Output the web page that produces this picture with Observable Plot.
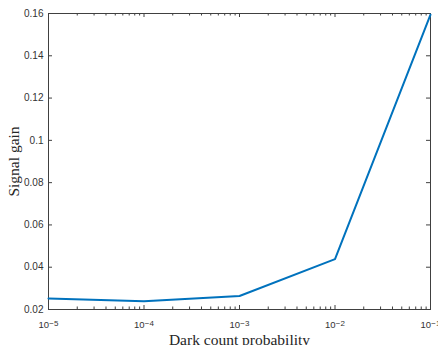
<!DOCTYPE html>
<html>
<head>
<meta charset="utf-8">
<script src="https://cdn.jsdelivr.net/npm/d3@7"></script>
<script src="https://cdn.jsdelivr.net/npm/@observablehq/plot@0.6"></script>
<style>
  html, body { margin: 0; padding: 0; background: #fff; }
</style>
</head>
<body>
<div id="chart"></div>
<script>
// Data
const probabilities = [1e-5, 1e-4, 1e-3, 1e-2, 1e-1];
const signalGain = [0.0252, 0.0239, 0.0264, 0.0438, 0.1595];

// Tick positions / labels
const xMajorTicks = [1e-5, 1e-4, 1e-3, 1e-2, 1e-1];
const xExponents = ["−5", "−4", "−3", "−2", "−1"];
const xMinorTicks = [];
for (const d of [1e-5, 1e-4, 1e-3, 1e-2]) for (let m = 2; m <= 9; m++) xMinorTicks.push(+(d * m).toPrecision(3));
const yTicks = [0.02, 0.04, 0.06, 0.08, 0.1, 0.12, 0.14, 0.16];

const data = probabilities.map((p, i) => ({p, g: signalGain[i]}));

const W = 438, H = 345;
const mL = 48, mR = 8, mT = 13, mB = 36;
const pw = W - mL - mR, ph = H - mT - mB;
const axisColor = "#404040";
const textColor = "#333";
const serif = "'Liberation Serif', 'Times New Roman', serif";

const chart = Plot.plot({
  width: W,
  height: H,
  marginLeft: mL,
  marginRight: mR,
  marginTop: mT,
  marginBottom: mB,
  style: {background: "#fff", fontFamily: "'Liberation Sans', Arial, sans-serif"},
  x: {type: "log", domain: [1e-5, 1e-1], axis: null},
  y: {domain: [0.02, 0.16]},
  marks: [
    Plot.frame({stroke: axisColor, strokeWidth: 1}),
    // x major ticks (bottom & top, inward)
    Plot.ruleX(xMajorTicks, {x: d => d, insetTop: ph - 4, stroke: axisColor}),
    Plot.ruleX(xMajorTicks, {x: d => d, insetBottom: ph - 4, stroke: axisColor}),
    // x minor ticks
    Plot.ruleX(xMinorTicks, {x: d => d, insetTop: ph - 2.5, stroke: axisColor}),
    Plot.ruleX(xMinorTicks, {x: d => d, insetBottom: ph - 2.5, stroke: axisColor}),
    // y ticks (left & right, inward)
    Plot.ruleY(yTicks, {y: d => d, insetRight: pw - 4, stroke: axisColor}),
    Plot.ruleY(yTicks, {y: d => d, insetLeft: pw - 4, stroke: axisColor}),
    Plot.axisY({
      ticks: yTicks,
      tickSize: 0,
      tickPadding: 5,
      tickFormat: d => String(+d.toFixed(2)),
      fontSize: 10,
      fill: textColor,
      label: null
    }),
    // x tick labels: 10^exp
    Plot.text(xMajorTicks, {
      x: d => d, text: () => "10", frameAnchor: "bottom",
      textAnchor: "end", lineAnchor: "bottom", dy: 18.5, dx: 0.5,
      fontSize: 9.5, fill: textColor
    }),
    Plot.text(xMajorTicks, {
      x: d => d, text: (d, i) => xExponents[i], frameAnchor: "bottom",
      textAnchor: "start", lineAnchor: "bottom", dy: 16, dx: 0.8,
      fontSize: 8, fill: textColor
    }),
    // data line
    Plot.line(data, {x: "p", y: "g", stroke: "#0072BD", strokeWidth: 2}),
    // axis labels
    Plot.text(["Dark count probability"], {
      text: d => d, frameAnchor: "bottom", textAnchor: "middle", lineAnchor: "bottom", dy: 35,
      fontSize: 15.5, fontFamily: serif, fill: "#262626"
    }),
    Plot.text(["Signal gain"], {
      text: d => d, frameAnchor: "left", textAnchor: "middle", lineAnchor: "bottom", rotate: -90, dx: -29.5,
      fontSize: 15.5, fontFamily: serif, fill: "#262626"
    })
  ]
});
document.getElementById("chart").appendChild(chart);
</script>
</body>
</html>
